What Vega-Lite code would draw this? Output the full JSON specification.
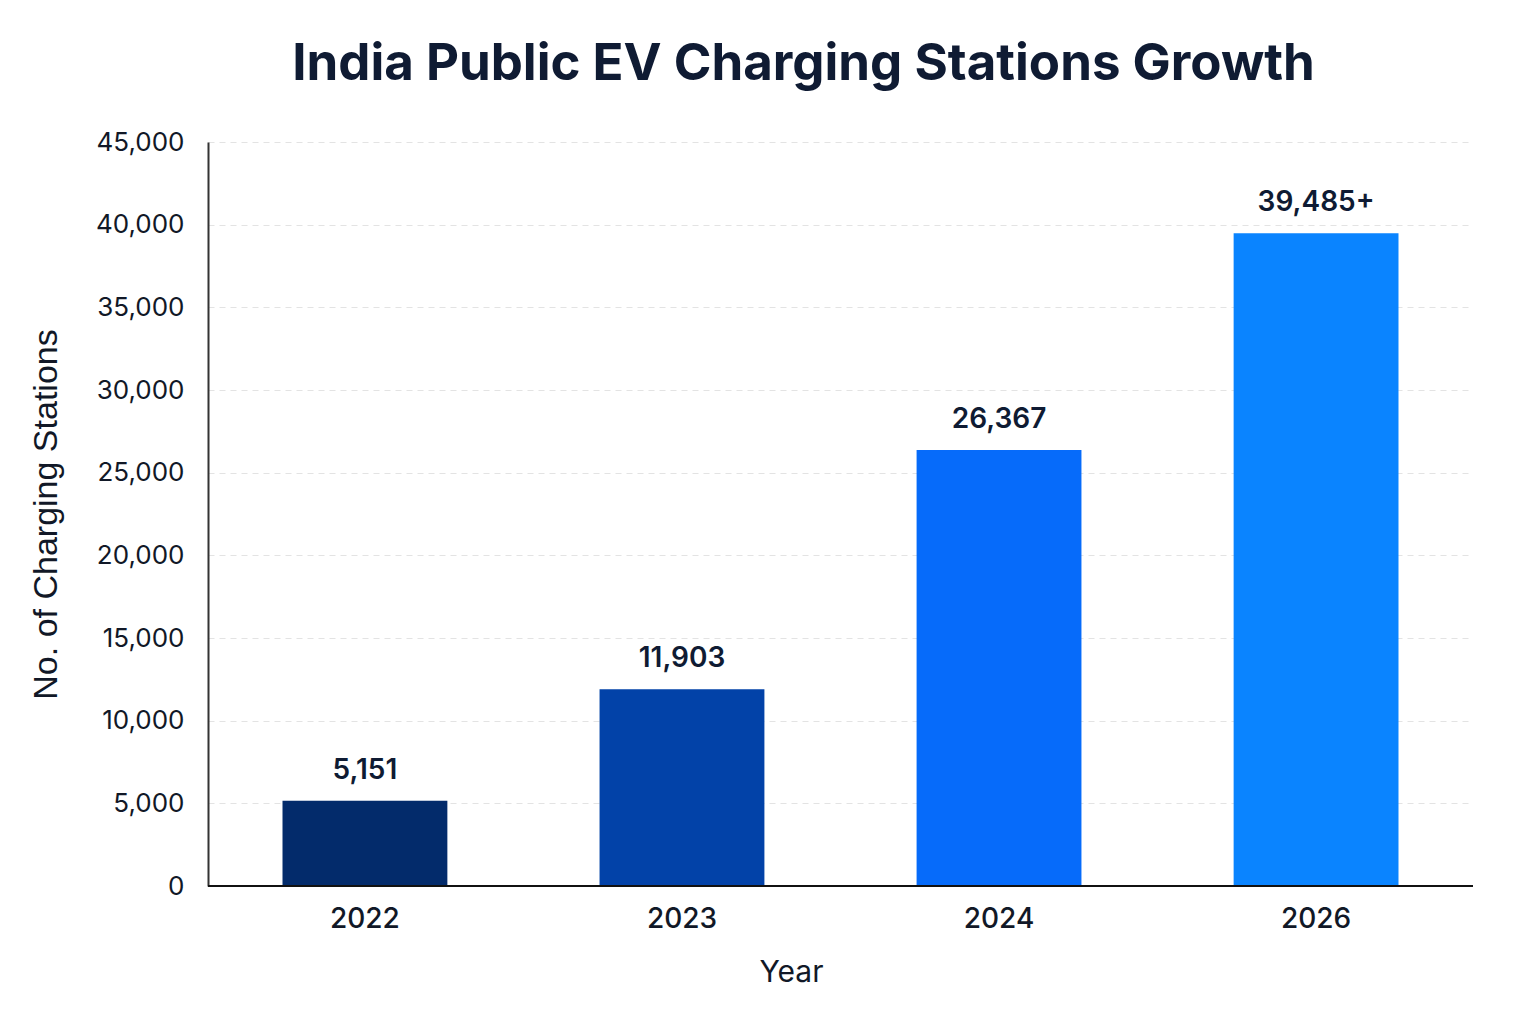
{
  "$schema": "https://vega.github.io/schema/vega-lite/v6.json",
  "width": 1265,
  "height": 744,
  "autosize": {"type": "none"},
  "padding": {"left": 208, "top": 142, "right": 63, "bottom": 138},
  "background": "white",
  "title": {
    "text": "India Public EV Charging Stations Growth",
    "font": "Inter",
    "fontSize": 51,
    "fontWeight": "bold",
    "color": "#0F1B33",
    "anchor": "middle",
    "dx": -37,
    "offset": 38
  },
  "data": {
    "values": [
      {"year": "2022", "stations": 5151, "label": "5,151", "color": "#032B6B"},
      {"year": "2023", "stations": 11903, "label": "11,903", "color": "#0242A8"},
      {"year": "2024", "stations": 26367, "label": "26,367", "color": "#066BFA"},
      {"year": "2026", "stations": 39485, "label": "39,485+", "color": "#0A84FF"}
    ]
  },
  "encoding": {
    "x": {
      "field": "year",
      "type": "nominal",
      "sort": null,
      "title": "Year",
      "scale": {"paddingInner": 0.48, "paddingOuter": 0.235},
      "axis": {
        "labelAngle": 0,
        "labelFont": "Inter",
        "labelFontSize": 28,
        "labelFontWeight": 500,
        "labelColor": "#111827",
        "labelPadding": 19,
        "ticks": false,
        "domain": false,
        "titleFont": "Inter",
        "titleFontSize": 30,
        "titleFontWeight": "normal",
        "titleColor": "#111827",
        "titlePadding": 24,
        "titleX": 583
      }
    },
    "y": {
      "field": "stations",
      "type": "quantitative",
      "title": "No. of Charging Stations",
      "scale": {"domain": [0, 45000], "nice": false},
      "axis": {
        "values": [0, 5000, 10000, 15000, 20000, 25000, 30000, 35000, 40000, 45000],
        "format": ",d",
        "labelFont": "Inter",
        "labelFontSize": 26,
        "labelColor": "#111827",
        "labelPadding": 24,
        "ticks": false,
        "domain": true,
        "domainColor": "#333333",
        "domainWidth": 2,
        "grid": true,
        "gridColor": "#E3E3E3",
        "gridDash": [6, 5],
        "gridWidth": 1,
        "titleFont": "Liberation Sans",
        "titleFontSize": 34,
        "titleFontWeight": "normal",
        "titleColor": "#111827",
        "titlePadding": 32
      }
    }
  },
  "layer": [
    {
      "mark": {"type": "bar"},
      "encoding": {
        "color": {"field": "color", "type": "nominal", "scale": null, "legend": null}
      }
    },
    {
      "mark": {"type": "rule", "color": "#111111", "strokeWidth": 2},
      "encoding": {"y": {"datum": 0}, "x": null}
    },
    {
      "mark": {"type": "text", "baseline": "bottom", "dy": -16, "font": "Inter", "fontSize": 28, "fontWeight": 600, "color": "#0F1B33"},
      "encoding": {"text": {"field": "label"}}
    }
  ],
  "config": {"view": {"stroke": null}}
}
